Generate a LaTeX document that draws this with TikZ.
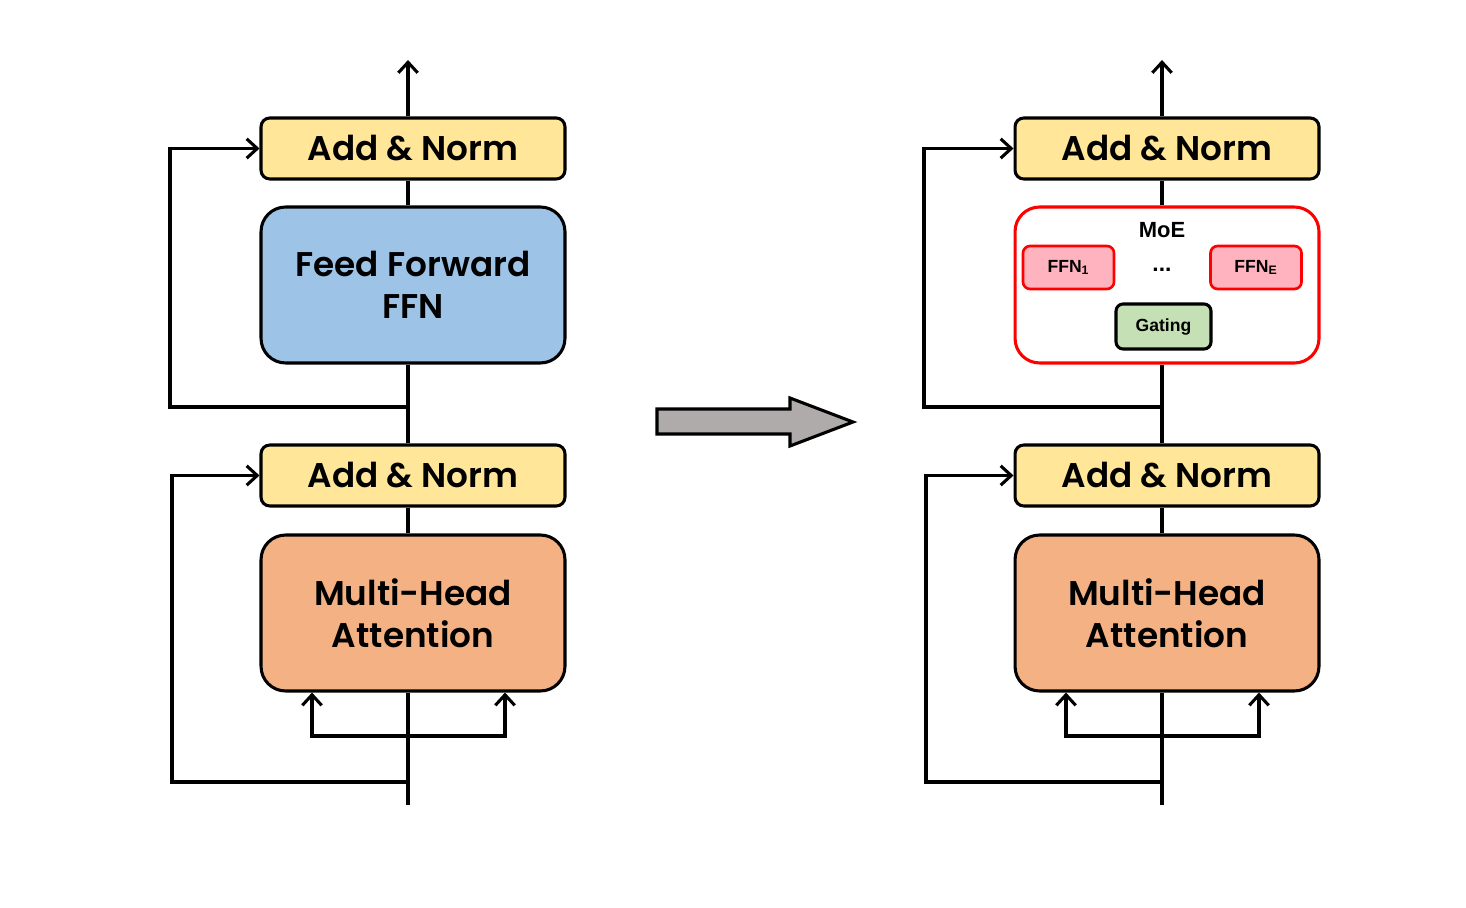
\documentclass[tikz,border=0pt]{standalone}
\usepackage{fontspec}
\setmainfont{Poppins}[BoldFont={Poppins SemiBold}]
\newfontfamily\arialfont{Liberation Sans}
\usetikzlibrary{arrows.meta}
\definecolor{normY}{HTML}{FFE699}
\definecolor{ffnB}{HTML}{9DC3E6}
\definecolor{attO}{HTML}{F4B183}
\definecolor{expP}{HTML}{FFB3BF}
\definecolor{gateG}{HTML}{C5E0B4}
\definecolor{bigG}{HTML}{AFABAB}
\tikzset{
  px/.style={x=0.02cm,y=-0.02cm},
  wire/.style={line width=1.75pt,black},
  arr/.style={wire,-{Straight Barb[length=6pt,width=11pt,line width=1.75pt]}},
  normbox/.style={draw,line width=1.75pt,fill=normY,rounded corners=5pt,minimum width=6.08cm,minimum height=1.22cm,font=\fontsize{19.5}{22}\selectfont\bfseries,inner sep=0pt},
  bigbox/.style={draw,line width=1.75pt,rounded corners=14pt,minimum width=6.08cm,minimum height=3.12cm,font=\fontsize{19.5}{24}\selectfont\bfseries,align=center,inner sep=0pt},
  expbox/.style={draw=red,line width=1.5pt,fill=expP,rounded corners=4pt,minimum width=1.82cm,minimum height=0.86cm,font=\arialfont\fontsize{10}{12}\selectfont\bfseries,inner sep=0pt},
}
\begin{document}
\begin{tikzpicture}[px]
\useasboundingbox (0,0) rectangle (1466,908);
% ---------- left column ----------
\node[normbox] (an1) at (413,148.5) {Add \& Norm};
\node[bigbox,fill=ffnB] (ffn) at (413,285) {Feed Forward\\FFN};
\node[normbox] (an2) at (413,475.5) {Add \& Norm};
\node[bigbox,fill=attO] (att) at (413,613) {Multi-Head\\Attention};
\coordinate (outL) at (408,60);
\coordinate (inL) at (408,805);
\coordinate (r1L) at (408,407);
\coordinate (r2L) at (408,782);
\coordinate (bL) at (408,736);
\draw[arr] (an1.north -| outL) -- (outL);
\draw[wire] (ffn.north -| outL) -- (an1.south -| outL);
\draw[wire] (an2.north -| outL) -- (ffn.south -| outL);
\draw[wire] (att.north -| outL) -- (an2.south -| outL);
\draw[wire] (inL) -- (att.south -| outL);
\draw[arr] (r1L) -- (170,407) -- (170,148.5) -- (an1.west);
\draw[arr] (r2L) -- (172,782) -- (172,475.5) -- (an2.west);
\draw[arr] (bL) -- (312,736) -- (att.south -| 312,0);
\draw[arr] (bL) -- (505,736) -- (att.south -| 505,0);
% ---------- big arrow ----------
\draw[line width=1.75pt,fill=bigG,line join=miter] (657,409) -- (790,409) -- (790,398) -- (853,422) -- (790,446) -- (790,434) -- (657,434) -- cycle;
% ---------- right column ----------
\node[normbox] (an3) at (1167,148.5) {Add \& Norm};
\node[draw=red,line width=1.75pt,fill=white,rounded corners=14pt,minimum width=6.08cm,minimum height=3.12cm] (moe) at (1167,285) {};
\node[font=\arialfont\fontsize{12.5}{14}\selectfont\bfseries] (moet) at (1162,230) {MoE};
\node[expbox] (f1) at (1068.5,267.5) {FFN\textsubscript{1}};
\node[expbox] (fe) at (1256,267.5) {FFN\textsubscript{E}};
\node[font=\arialfont\fontsize{13}{14}\selectfont\bfseries] (dots) at (1162,270) {...};
\node[draw,line width=1.75pt,fill=gateG,rounded corners=4pt,minimum width=1.9cm,minimum height=0.9cm,font=\arialfont\fontsize{10}{12}\selectfont\bfseries,inner sep=0pt] (gate) at (1163.5,326.5) {Gating};
\node[normbox] (an4) at (1167,475.5) {Add \& Norm};
\node[bigbox,fill=attO] (att2) at (1167,613) {Multi-Head\\Attention};
\coordinate (outR) at (1162,60);
\coordinate (inR) at (1162,805);
\coordinate (r1R) at (1162,407);
\coordinate (r2R) at (1162,782);
\coordinate (bR) at (1162,736);
\draw[arr] (an3.north -| outR) -- (outR);
\draw[wire] (moe.north -| outR) -- (an3.south -| outR);
\draw[wire] (an4.north -| outR) -- (moe.south -| outR);
\draw[wire] (att2.north -| outR) -- (an4.south -| outR);
\draw[wire] (inR) -- (att2.south -| outR);
\draw[arr] (r1R) -- (924,407) -- (924,148.5) -- (an3.west);
\draw[arr] (r2R) -- (926,782) -- (926,475.5) -- (an4.west);
\draw[arr] (bR) -- (1066,736) -- (att2.south -| 1066,0);
\draw[arr] (bR) -- (1259,736) -- (att2.south -| 1259,0);
\end{tikzpicture}
\end{document}
